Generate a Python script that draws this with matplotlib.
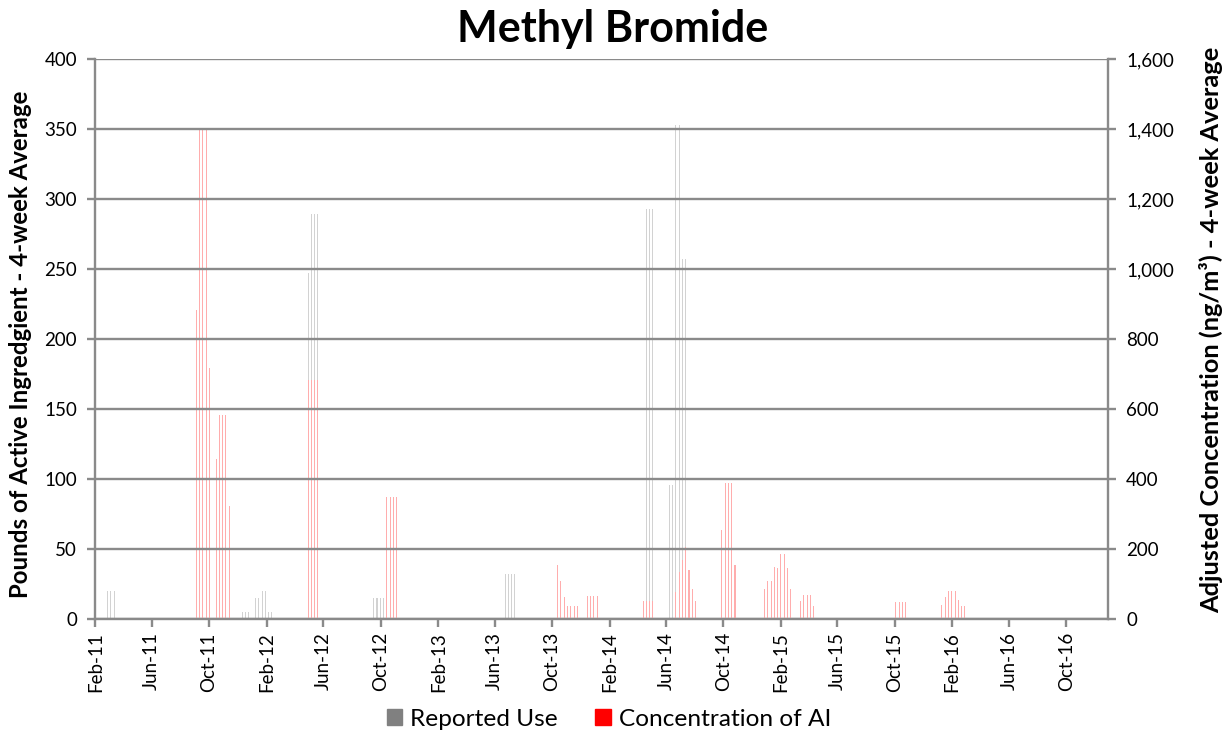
import pandas as pd
import matplotlib.pyplot as plt
import matplotlib.dates as mdates
from matplotlib.patches import Patch

plt.rcParams['font.family'] = ['Lato', 'DejaVu Sans']

# Reported use (lbs, left axis) - weeks with non-zero values
use_dates = ['2011-02-27', '2011-03-06', '2011-03-13',
             '2011-12-11', '2011-12-18', '2011-12-25', '2012-01-08', '2012-01-15',
             '2012-01-22', '2012-01-29', '2012-02-05', '2012-02-12',
             '2012-04-29', '2012-05-06', '2012-05-13', '2012-05-20',
             '2012-09-16', '2012-09-23', '2012-09-30', '2012-10-07',
             '2013-06-23', '2013-06-30', '2013-07-07', '2013-07-14',
             '2014-04-20', '2014-04-27', '2014-05-04',
             '2014-06-08', '2014-06-15', '2014-06-22', '2014-06-29',
             '2014-07-06', '2014-07-13']
use_values = [20, 20, 20,
              5, 5, 5, 15, 15,
              20, 20, 5, 5,
              247, 289, 289, 289,
              15, 15, 15, 15,
              32, 32, 32, 32,
              293, 293, 293,
              96, 96, 353, 353,
              257, 257]

# Concentration of AI (ng/m3, right axis)
conc_dates = ['2011-09-04', '2011-09-11', '2011-09-18', '2011-09-25', '2011-10-02',
              '2011-10-16', '2011-10-23', '2011-10-30', '2011-11-06', '2011-11-13',
              '2012-04-29', '2012-05-06', '2012-05-13', '2012-05-20',
              '2012-10-14', '2012-10-21', '2012-10-28', '2012-11-04',
              '2013-10-13', '2013-10-20', '2013-10-27', '2013-11-03', '2013-11-10',
              '2013-11-17', '2013-11-24',
              '2013-12-15', '2013-12-22', '2013-12-29', '2014-01-05',
              '2014-04-13', '2014-04-20', '2014-04-27', '2014-05-04',
              '2014-06-22', '2014-06-29', '2014-07-06', '2014-07-13', '2014-07-20',
              '2014-07-27', '2014-08-03',
              '2014-09-28', '2014-10-05', '2014-10-12', '2014-10-19', '2014-10-26',
              '2014-12-28', '2015-01-04', '2015-01-11', '2015-01-18', '2015-01-25',
              '2015-02-01', '2015-02-08', '2015-02-15', '2015-02-22',
              '2015-03-15', '2015-03-22', '2015-03-29', '2015-04-05', '2015-04-12',
              '2015-10-04', '2015-10-11', '2015-10-18', '2015-10-25',
              '2016-01-10', '2016-01-17', '2016-01-24', '2016-01-31', '2016-02-07',
              '2016-02-14', '2016-02-21', '2016-02-28']
conc_values = [882, 1402, 1402, 1402, 718,
               458, 584, 584, 584, 322,
               683, 683, 683, 683,
               349, 349, 349, 349,
               154, 108, 64, 36, 36,
               36, 36,
               67, 67, 67, 67,
               52, 52, 52, 52,
               78, 134, 170, 206, 141,
               87, 51,
               254, 390, 390, 390, 153,
               85, 109, 109, 149, 145,
               187, 187, 146, 85,
               52, 69, 69, 69, 37,
               48, 48, 48, 48,
               40, 62, 79, 79, 79,
               54, 38, 38]

use = pd.DataFrame({'date': pd.to_datetime(use_dates), 'value': use_values})
conc = pd.DataFrame({'date': pd.to_datetime(conc_dates), 'value': conc_values})

fig = plt.figure(figsize=(12.25, 7.34), dpi=100)
ax = fig.add_axes([95 / 1225, 1 - 619 / 734, (1108 - 95) / 1225, (619 - 59) / 734])
ax2 = ax.twinx()

grid_col = '#8a8a8a'

ax.bar(use['date'], use['value'], width=2.2, color='#d2d2d2', linewidth=0)
ax2.bar(conc['date'], conc['value'], width=2.2, color='#ffadad', linewidth=0)

ax.set_ylim(0, 400)
ax2.set_ylim(0, 1600)
ax.set_yticks(range(0, 401, 50))
ax2.set_yticks(range(0, 1601, 200))
ax2.yaxis.set_major_formatter(plt.FuncFormatter(lambda v, p: f'{int(v):,}'))

ax.set_xlim(pd.Timestamp('2011-01-31'), pd.Timestamp('2016-12-29'))
ticks = pd.date_range('2011-02-01', '2016-10-01', freq='4MS')
ax.set_xticks(ticks)
ax.xaxis.set_major_formatter(mdates.DateFormatter('%b-%y'))
plt.setp(ax.get_xticklabels(), rotation=90)

# gridlines over the bars
ax2.set_axisbelow(False)
ax2.yaxis.grid(True, color=grid_col, linewidth=1.7)

for a in (ax, ax2):
    for s in a.spines.values():
        s.set_visible(False)
ax.spines['left'].set_visible(True)
ax.spines['bottom'].set_visible(True)
ax2.spines['right'].set_visible(True)
for s in (ax.spines['left'], ax.spines['bottom'], ax2.spines['right']):
    s.set_color(grid_col)
    s.set_linewidth(1.7)

ax.tick_params(axis='both', colors=grid_col, labelcolor='black', labelsize=13.5,
               length=6, width=1.7)
ax.tick_params(axis='y', pad=7)
ax2.tick_params(axis='y', colors=grid_col, labelcolor='black', labelsize=13.5,
                length=6, width=1.7, pad=7)

fig.text(0.5, 0.988, 'Methyl Bromide', ha='center', va='top', fontsize=31,
         fontweight='bold')
fig.text(0.017, 0.531, 'Pounds of Active Ingredgient - 4-week Average', rotation=90,
         ha='center', va='center', fontsize=17.3, fontweight='bold')
fig.text(0.989, 0.55, 'Adjusted Concentration (ng/m³) - 4-week Average', rotation=90,
         ha='center', va='center', fontsize=18.3, fontweight='bold')

handles = [Patch(color='#808080', label='Reported Use'),
           Patch(color='#ff0000', label='Concentration of AI')]
fig.legend(handles=handles, loc='lower center', bbox_to_anchor=(0.497, -0.024), ncol=2,
           frameon=False, fontsize=17.6, handlelength=0.65, handleheight=0.65,
           handletextpad=0.3, columnspacing=1.55)

plt.savefig('out.png', dpi=100)
plt.close()
